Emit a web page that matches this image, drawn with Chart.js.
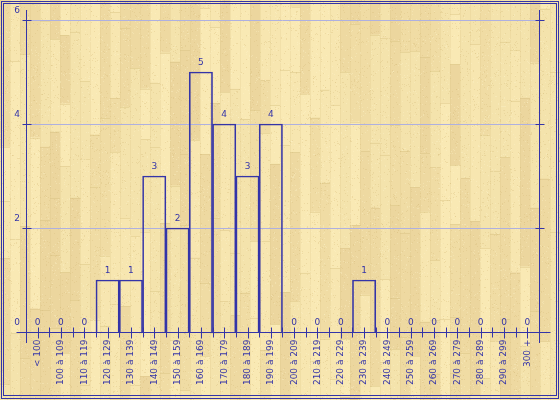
<!DOCTYPE html>
<html>
<head>
<meta charset="utf-8">
<title>Répartition</title>
<script src="https://cdn.jsdelivr.net/npm/chart.js@4"></script>
<style>
  html, body { margin: 0; padding: 0; background: #f1dfa8; }
  canvas { display: block; }
</style>
</head>
<body>
<canvas id="chart" width="560" height="400"></canvas>
<script>
const categories = [
  '< 100', '100 à 109', '110 à 119', '120 à 129', '130 à 139', '140 à 149',
  '150 à 159', '160 à 169', '170 à 179', '180 à 189', '190 à 199', '200 à 209',
  '210 à 219', '220 à 229', '230 à 239', '240 à 249', '250 à 259', '260 à 269',
  '270 à 279', '280 à 289', '290 à 299', '300 +'
]
const counts = [0, 0, 0, 1, 1, 3, 2, 5, 4, 3, 4, 0, 0, 0, 1, 0, 0, 0, 0, 0, 0, 0]
const yTicks = [0, 2, 4, 6]

const INK = '#3434a8'
const GRID = '#aeb0e0'
const FONT = '9px "DejaVu Sans"'

// parquet-like backdrop, seeded so it is the same every time
function drawWood(ctx, w, h) {
  let seed = 12345
  const rnd = () => (seed = (seed * 16807) % 2147483647) / 2147483647
  const tones = ['#f9e9b4', '#f4e3ac', '#f0dca4', '#ecd69e', '#f7e6b0', '#eed9a1']
  ctx.fillStyle = '#f1dfa8'
  ctx.fillRect(0, 0, w, h)
  for (let x = 0; x < w; x += 10) {
    let y = -rnd() * 120
    while (y < h) {
      const len = 50 + rnd() * 130
      ctx.fillStyle = tones[Math.floor(rnd() * tones.length)]
      ctx.fillRect(x, y, 10, len)
      ctx.fillStyle = 'rgba(210,185,120,0.35)'
      ctx.fillRect(x, Math.round(y), 10, 1)
      y += len
    }
    ctx.fillStyle = 'rgba(215,190,125,0.2)'
    ctx.fillRect(x, 0, 1, h)
  }
  for (let i = 0; i < 16000; i++) {
    ctx.fillStyle = rnd() < 0.55 ? 'rgba(212,186,118,0.3)' : 'rgba(255,247,210,0.3)'
    ctx.fillRect(Math.floor(rnd() * w), Math.floor(rnd() * h), 1, 1)
  }
}

const woodPlugin = {
  id: 'wood',
  beforeDraw(chart) {
    drawWood(chart.ctx, chart.width, chart.height)
  },
  afterDraw(chart) {
    const ctx = chart.ctx
    ctx.save()
    ctx.strokeStyle = INK
    ctx.lineWidth = 1
    ctx.strokeRect(1.5, 1.5, 557, 397)
    ctx.strokeRect(3.5, 3.5, 553, 392)
    ctx.restore()
  }
}

const axesPlugin = {
  id: 'axes',
  beforeDatasetsDraw(chart) {
    const { ctx, chartArea, scales: { y } } = chart
    ctx.save()
    ctx.strokeStyle = GRID
    ctx.lineWidth = 1
    yTicks.forEach(v => {
      if (v === 0) return
      const py = Math.round(y.getPixelForValue(v)) + 0.5
      ctx.beginPath()
      ctx.moveTo(chartArea.left, py)
      ctx.lineTo(chartArea.right, py)
      ctx.stroke()
    })
    ctx.restore()
  },
  afterDatasetsDraw(chart) {
    const { ctx, chartArea, scales: { x, y } } = chart
    const left = Math.round(chartArea.left) + 0.5
    const right = Math.round(chartArea.right) + 0.5
    const base = Math.round(y.getPixelForValue(0)) + 0.5
    const top = chartArea.top - 10
    const bottom = chartArea.bottom + 11
    const step = x.getPixelForValue(1) - x.getPixelForValue(0)
    ctx.save()
    ctx.strokeStyle = INK
    ctx.fillStyle = INK
    ctx.lineWidth = 1

    // vertical axis lines (left and right)
    ctx.beginPath()
    ctx.moveTo(left, top); ctx.lineTo(left, bottom)
    ctx.moveTo(right, top); ctx.lineTo(right, bottom)
    // horizontal axis
    ctx.moveTo(left - 10, base); ctx.lineTo(right + 11, base)
    ctx.stroke()

    // y ticks crossing both vertical lines
    ctx.beginPath()
    yTicks.forEach(v => {
      const py = Math.round(y.getPixelForValue(v)) + 0.5
      ctx.moveTo(left - 4, py); ctx.lineTo(left + 5, py)
      ctx.moveTo(right - 4, py); ctx.lineTo(right + 5, py)
    })
    // x ticks at category edges and centres
    categories.forEach((c, i) => {
      const cx = Math.round(x.getPixelForValue(i)) + 0.5
      ctx.moveTo(cx, base - 5); ctx.lineTo(cx, base + 6)
      const ex = Math.round(x.getPixelForValue(i) - step / 2) + 0.5
      ctx.moveTo(ex, base - 5); ctx.lineTo(ex, base + 5)
    })
    ctx.stroke()

    ctx.font = FONT
    // y labels
    ctx.textAlign = 'center'
    ctx.textBaseline = 'middle'
    yTicks.forEach(v => {
      ctx.fillText(String(v), 17, y.getPixelForValue(v) - 9)
    })
    // value labels
    counts.forEach((v, i) => {
      ctx.fillText(String(v), x.getPixelForValue(i), y.getPixelForValue(v) - 9)
    })
    // rotated category labels
    categories.forEach((c, i) => {
      ctx.save()
      ctx.translate(x.getPixelForValue(i), base + 7)
      ctx.rotate(-Math.PI / 2)
      ctx.textAlign = 'right'
      ctx.textBaseline = 'middle'
      ctx.fillText(c, 0, 0)
      ctx.restore()
    })
    ctx.restore()
  }
}

new Chart(document.getElementById('chart'), {
  type: 'bar',
  data: {
    labels: categories,
    datasets: [{
      data: counts,
      backgroundColor: 'rgba(0,0,0,0)',
      borderColor: INK,
      borderWidth: 1,
      borderSkipped: 'bottom',
      barPercentage: 1.0,
      categoryPercentage: 1.0
    }]
  },
  options: {
    responsive: false,
    animation: false,
    devicePixelRatio: 1,
    layout: { padding: { left: 26, right: 21, top: 20, bottom: 68 } },
    plugins: {
      legend: { display: false },
      tooltip: { enabled: false }
    },
    scales: {
      x: { display: false, offset: true },
      y: { display: false, min: 0, max: 6 }
    }
  },
  plugins: [woodPlugin, axesPlugin]
})
</script>
</body>
</html>
